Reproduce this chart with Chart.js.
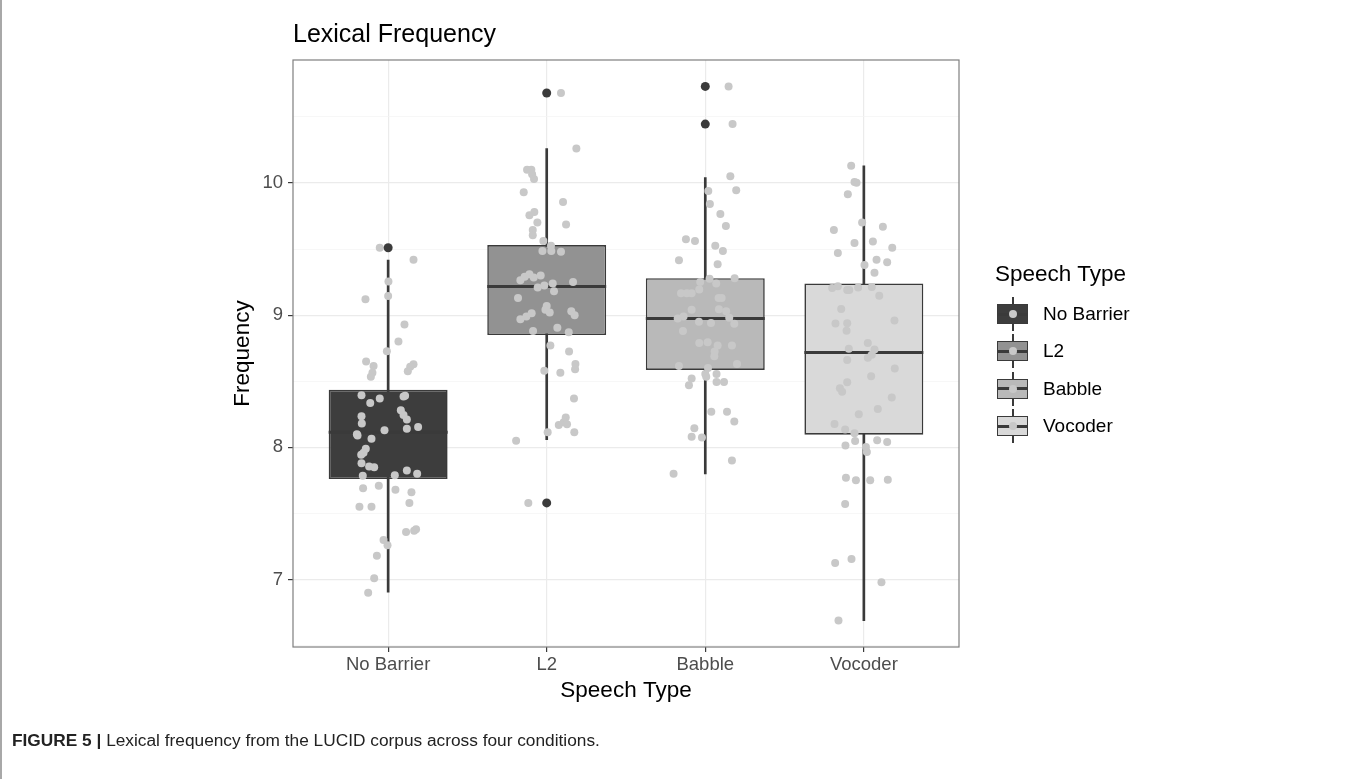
<!DOCTYPE html>
<html>
<head>
<meta charset="utf-8">
<title>Lexical Frequency</title>
<script src="https://cdn.jsdelivr.net/npm/chart.js@4.4.1/dist/chart.umd.min.js"></script>
<style>
  html, body { margin: 0; padding: 0; background: #fff; }
  body { width: 1363px; height: 779px; position: relative; overflow: hidden; font-family: "Liberation Sans", Arial, sans-serif; }
  #frame { position: absolute; left: 0; top: 0; height: 779px; border-left: 2px solid #a8a8a8; }
  #chart { position: absolute; left: 0; top: 0; }
  .legend-title { position: absolute; left: 995px; top: 261px; font-size: 22.5px; line-height: 26px; color: #000; }
  .legend-item { position: absolute; left: 997px; height: 34px; }
  .key { position: absolute; left: 0; top: 0; width: 31px; height: 34px; }
  .key .whisker { position: absolute; left: 14.5px; top: 0; width: 2px; height: 34px; background: #3a3a3a; }
  .key .box { position: absolute; left: 0; top: 7px; width: 31px; height: 20px; box-sizing: border-box; border: 1.6px solid #3a3a3a; }
  .key .median { position: absolute; left: 0; top: 15.5px; width: 31px; height: 3px; background: #3a3a3a; }
  .key .dot { position: absolute; left: 11.5px; top: 13px; width: 8px; height: 8px; border-radius: 50%; background: #c8c8c8; }
  .legend-label { position: absolute; left: 46px; top: 0; line-height: 34px; font-size: 19px; color: #000; white-space: nowrap; }
  #caption { position: absolute; left: 12px; top: 730px; font-size: 17.3px; color: #222; white-space: nowrap; }
  #caption b { font-weight: bold; }
</style>
</head>
<body>
<div id="frame"></div>
<canvas id="chart" width="1363" height="779"></canvas>
<div id="legend"></div>
<div id="caption"><b>FIGURE 5 |</b> Lexical frequency from the LUCID corpus across four conditions.</div>
<script>
// 조건별 상자그림 요약값
const categories = ["No Barrier", "L2", "Babble", "Vocoder"];
const q1 = [7.76, 8.85, 8.586, 8.096];
const medians = [8.115, 9.216, 8.975, 8.717];
const q3 = [8.435, 9.53, 9.28, 9.24];
const whiskerLow = [6.904, 8.058, 7.80, 6.69];
const whiskerHigh = [9.417, 10.26, 10.04, 10.13];
const outlierValues = [[9.51], [10.68, 7.58], [10.73, 10.445], []];

const yTickLabels = [7, 8, 9, 10];
const yGridValues = [6.5, 7, 7.5, 8, 8.5, 9, 9.5, 10, 10.5];

// 지터 점: 가로 오프셋 / 값
const noBarrierJitter = [-0.053, 0.160, 0.002, -0.143, 0.000, 0.103, 0.065, -0.008, -0.139, -0.092, -0.099, -0.109, 0.160, 0.139, 0.124, -0.168, -0.113, -0.053, 0.097, 0.107, 0.080, 0.097, 0.118, -0.168, -0.166, 0.118, 0.189, -0.023, -0.197, -0.193, -0.105, -0.141, -0.155, -0.170, -0.168, -0.120, -0.088, -0.160, 0.042, 0.118, 0.183, -0.158, -0.059, 0.046, 0.147, 0.134, -0.181, -0.105, 0.113, 0.164, 0.176, -0.029, -0.004, -0.071, -0.088, -0.126];
const noBarrierValues = [9.51, 9.42, 9.255, 9.12, 9.145, 8.93, 8.80, 8.727, 8.65, 8.615, 8.565, 8.535, 8.628, 8.61, 8.575, 8.395, 8.335, 8.37, 8.385, 8.39, 8.28, 8.245, 8.21, 8.235, 8.18, 8.14, 8.155, 8.13, 8.10, 8.09, 8.065, 7.99, 7.96, 7.945, 7.88, 7.855, 7.85, 7.785, 7.79, 7.825, 7.80, 7.69, 7.71, 7.68, 7.66, 7.58, 7.55, 7.55, 7.36, 7.37, 7.38, 7.30, 7.26, 7.18, 7.01, 6.90];

const l2Jitter = [0.090, 0.187, -0.124, -0.097, -0.092, -0.080, -0.145, 0.103, -0.078, -0.109, -0.059, 0.122, -0.088, -0.088, -0.021, 0.027, -0.027, 0.029, 0.090, -0.166, -0.139, -0.109, -0.082, -0.038, -0.057, -0.015, 0.038, 0.046, 0.166, -0.181, -0.166, -0.128, -0.095, 0.000, -0.008, 0.019, 0.155, 0.176, -0.086, 0.067, 0.139, 0.023, 0.141, 0.181, 0.179, -0.015, 0.086, 0.172, 0.120, 0.076, 0.107, 0.128, 0.174, 0.006, -0.193, -0.116];
const l2Values = [10.68, 10.26, 10.10, 10.10, 10.065, 10.03, 9.93, 9.855, 9.78, 9.755, 9.70, 9.685, 9.645, 9.605, 9.56, 9.525, 9.485, 9.485, 9.48, 9.265, 9.29, 9.31, 9.285, 9.30, 9.21, 9.225, 9.24, 9.18, 9.25, 9.13, 8.97, 8.99, 9.015, 9.07, 9.04, 9.02, 9.03, 9.00, 8.88, 8.905, 8.87, 8.77, 8.725, 8.63, 8.59, 8.58, 8.565, 8.37, 8.225, 8.17, 8.19, 8.175, 8.115, 8.115, 8.05, 7.58];

const babbleJitter = [0.147, 0.172, 0.158, 0.019, 0.195, 0.029, 0.095, 0.130, -0.122, -0.065, 0.063, 0.111, -0.166, 0.078, 0.185, 0.027, -0.032, 0.069, -0.038, -0.153, -0.116, -0.086, 0.084, 0.103, 0.086, 0.132, -0.086, -0.137, -0.174, -0.040, 0.036, 0.151, 0.183, -0.141, -0.038, 0.015, 0.078, 0.168, 0.059, 0.057, 0.200, -0.166, 0.017, 0.000, 0.006, 0.071, -0.086, -0.103, 0.071, 0.118, 0.038, 0.137, 0.183, -0.069, -0.086, -0.021, 0.168, -0.200];
const babbleValues = [10.73, 10.445, 10.05, 9.94, 9.945, 9.84, 9.765, 9.675, 9.575, 9.56, 9.525, 9.485, 9.415, 9.385, 9.28, 9.275, 9.25, 9.24, 9.195, 9.165, 9.165, 9.165, 9.13, 9.13, 9.045, 9.03, 9.04, 8.99, 8.975, 8.95, 8.94, 8.98, 8.935, 8.88, 8.79, 8.795, 8.77, 8.77, 8.725, 8.69, 8.63, 8.615, 8.60, 8.555, 8.535, 8.555, 8.52, 8.47, 8.495, 8.495, 8.27, 8.27, 8.195, 8.145, 8.08, 8.075, 7.90, 7.80];

const vocoderJitter = [-0.080, -0.059, -0.046, -0.101, -0.011, -0.189, 0.120, -0.059, 0.057, 0.179, -0.164, 0.080, 0.147, 0.004, 0.067, -0.200, -0.164, -0.105, -0.092, -0.036, 0.050, 0.097, -0.143, 0.193, -0.179, -0.105, -0.109, 0.025, -0.095, 0.067, 0.050, 0.025, -0.105, 0.195, 0.046, -0.105, -0.151, -0.137, 0.176, 0.088, -0.032, -0.185, -0.118, -0.059, -0.055, -0.116, 0.013, 0.019, 0.084, 0.147, -0.113, -0.050, 0.040, 0.151, -0.118, -0.181, -0.078, 0.111, -0.160];
const vocoderValues = [10.13, 10.008, 10.002, 9.915, 9.70, 9.645, 9.668, 9.545, 9.557, 9.51, 9.47, 9.42, 9.40, 9.38, 9.32, 9.205, 9.218, 9.19, 9.19, 9.21, 9.213, 9.147, 9.046, 8.96, 8.936, 8.938, 8.883, 8.79, 8.745, 8.74, 8.70, 8.677, 8.66, 8.596, 8.538, 8.493, 8.447, 8.42, 8.377, 8.29, 8.25, 8.176, 8.136, 8.106, 8.048, 8.015, 8.003, 7.965, 8.053, 8.04, 7.77, 7.752, 7.752, 7.755, 7.572, 7.126, 7.156, 6.98, 6.69];

const boxFills = ["#3d3d3d", "#929292", "#b9b9b9", "#d9d9d9"];
const lineColor = "#3a3a3a";
const BOX_WIDTH = 0.75;

/*---- 데이터 가공 */
const jitterGroups = [
	[noBarrierJitter, noBarrierValues],
	[l2Jitter, l2Values],
	[babbleJitter, babbleValues],
	[vocoderJitter, vocoderValues],
];
const jitterPoints = [];
jitterGroups.forEach(([offsets, values], i) => {
	values.forEach((v, k) => jitterPoints.push({ x: i + 1 + offsets[k], y: v }));
});

const outlierPoints = [];
outlierValues.forEach((vals, i) => vals.forEach((v) => outlierPoints.push({ x: i + 1, y: v })));

const medianSegments = [];
categories.forEach((c, i) => {
	medianSegments.push(
		{ x: i + 1 - BOX_WIDTH / 2, y: medians[i] },
		{ x: i + 1 + BOX_WIDTH / 2, y: medians[i] },
		{ x: i + 1.5, y: null }
	);
});

const isMajor = (v) => yTickLabels.includes(v);

// 패널 테두리
const panelBorder = {
	id: "panelBorder",
	afterDraw(chart) {
		const { ctx, chartArea: a } = chart;
		ctx.save();
		ctx.strokeStyle = "#7f7f7f";
		ctx.lineWidth = 1.2;
		ctx.strokeRect(a.left, a.top, a.right - a.left, a.bottom - a.top);
		ctx.restore();
	},
};

Chart.defaults.font.family = '"Liberation Sans", Arial, sans-serif';

new Chart(document.getElementById("chart"), {
	type: "scatter",
	data: {
		datasets: [
			{
				type: "bar",
				label: "whiskers",
				data: categories.map((c, i) => ({ x: i + 1, y: [whiskerLow[i], whiskerHigh[i]] })),
				backgroundColor: lineColor,
				borderWidth: 0,
				barThickness: 2,
				grouped: false,
				order: 6,
			},
			{
				type: "bar",
				label: "boxes",
				data: categories.map((c, i) => ({ x: i + 1, y: [q1[i], q3[i]] })),
				backgroundColor: boxFills,
				borderColor: lineColor,
				borderWidth: 1.6,
				borderSkipped: false,
				grouped: false,
				categoryPercentage: 1,
				barPercentage: BOX_WIDTH,
				order: 5,
			},
			{
				type: "line",
				label: "medians",
				data: medianSegments,
				borderColor: lineColor,
				borderWidth: 3,
				pointRadius: 0,
				showLine: true,
				spanGaps: false,
				order: 4,
			},
			{
				type: "scatter",
				label: "jitter",
				data: jitterPoints,
				backgroundColor: "#c8c8c8",
				borderWidth: 0,
				pointRadius: 4,
				order: 2,
			},
			{
				type: "scatter",
				label: "outliers",
				data: outlierPoints,
				backgroundColor: "#3b3b3b",
				borderWidth: 0,
				pointRadius: 4.5,
				order: 1,
			},
		],
	},
	options: {
		responsive: false,
		devicePixelRatio: 1,
		animation: false,
		events: [],
		layout: { padding: { left: 229, right: 404, top: 0, bottom: 72 } },
		plugins: {
			legend: { display: false },
			tooltip: { enabled: false },
			title: {
				display: true,
				text: "Lexical Frequency",
				align: "start",
				fullSize: false,
				color: "#000",
				font: { size: 25, weight: "normal" },
				padding: { top: 20, bottom: 10 },
			},
		},
		scales: {
			x: {
				type: "linear",
				min: 0.4,
				max: 4.6,
				offset: false,
				afterBuildTicks: (s) => {
					s.ticks = categories.map((c, i) => ({ value: i + 1 }));
				},
				afterFit: (s) => {
					s.height = 60;
				},
				ticks: {
					callback: (v) => categories[v - 1],
					color: "#4d4d4d",
					font: { size: 18.5 },
					padding: 2,
					autoSkip: false,
					maxRotation: 0,
				},
				grid: { offset: false, color: "#ebebeb", lineWidth: 1.2, tickLength: 5, tickColor: lineColor, tickWidth: 1.2 },
				border: { display: false },
				title: { display: true, text: "Speech Type", color: "#000", font: { size: 22.5 }, padding: { top: 0, bottom: 3 } },
			},
			y: {
				type: "linear",
				min: 6.49,
				max: 10.93,
				afterBuildTicks: (s) => {
					s.ticks = yGridValues.map((v) => ({ value: v }));
				},
				afterFit: (s) => {
					s.width = 64;
				},
				ticks: {
					callback: (v) => (isMajor(v) ? String(v) : ""),
					color: "#4d4d4d",
					font: { size: 18.5 },
					padding: 5,
					autoSkip: false,
				},
				grid: {
					color: (ctx) => (isMajor(ctx.tick.value) ? "#ebebeb" : "#f4f4f4"),
					lineWidth: (ctx) => (isMajor(ctx.tick.value) ? 1.2 : 0.7),
					tickLength: 5,
					tickColor: (ctx) => (isMajor(ctx.tick.value) ? lineColor : "rgba(0,0,0,0)"),
					tickWidth: 1.2,
				},
				border: { display: false },
				title: { display: true, text: "Frequency", color: "#000", font: { size: 22.5 }, padding: { top: 0, bottom: 0 } },
			},
		},
	},
	plugins: [panelBorder],
});

// 범례 (상자그림 기호)
const legendEl = document.getElementById("legend");
const legendTitle = document.createElement("div");
legendTitle.className = "legend-title";
legendTitle.textContent = "Speech Type";
legendEl.appendChild(legendTitle);
categories.forEach((c, i) => {
	const item = document.createElement("div");
	item.className = "legend-item";
	item.style.top = 297 + i * 37.4 + "px";
	item.innerHTML =
		'<div class="key"><div class="whisker"></div><div class="box" style="background:' + boxFills[i] + '"></div>' +
		'<div class="median"></div><div class="dot"></div></div>' +
		'<div class="legend-label">' + c + "</div>";
	legendEl.appendChild(item);
});
</script>
</body>
</html>
